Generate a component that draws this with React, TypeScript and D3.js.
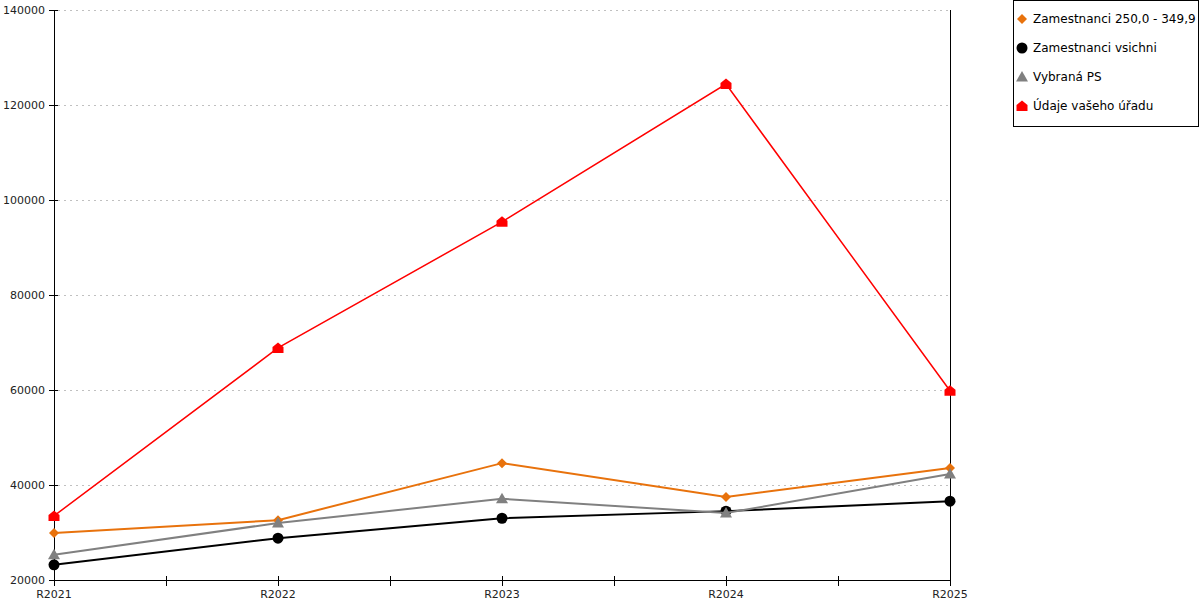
import React from "react";
import * as d3 from "d3";

const categories = ["R2021", "R2022", "R2023", "R2024", "R2025"];
const seriesNames = ["Zamestnanci 250,0 - 349,9", "Zamestnanci vsichni", "Vybraná PS", "Údaje vašeho úřadu"];
const orangeValues = [29900, 32600, 44600, 37500, 43600];
const blackValues = [23200, 28800, 33000, 34500, 36600];
const grayValues = [25300, 32000, 37100, 34100, 42300];
const redValues = [33500, 68850, 95400, 124400, 59850];
const yTicks = [20000, 40000, 60000, 80000, 100000, 120000, 140000];

const W = 1200, H = 600;
const left = 54, right = 950, top = 10, bottom = 580;
const font = "DejaVu Sans, sans-serif";
const c = (v: number) => Math.round(v) + 0.5;

type Shape = "diamond" | "circle" | "triangle" | "house";
const series: { name: string; values: number[]; color: string; width: number; shape: Shape }[] = [
  { name: seriesNames[0], values: orangeValues, color: "#E8720C", width: 2, shape: "diamond" },
  { name: seriesNames[1], values: blackValues, color: "#000000", width: 2, shape: "circle" },
  { name: seriesNames[2], values: grayValues, color: "#808080", width: 2, shape: "triangle" },
  { name: seriesNames[3], values: redValues, color: "#FF0000", width: 1.5, shape: "house" },
];

function Marker({ shape, x, y, color }: { shape: Shape; x: number; y: number; color: string }) {
  if (shape === "diamond") {
    const r = 5;
    return <path d={`M${x},${y - r}L${x + r},${y}L${x},${y + r}L${x - r},${y}Z`} fill={color} />;
  }
  if (shape === "circle") return <circle cx={x} cy={y} r={5.5} fill={color} />;
  if (shape === "triangle") {
    const r = 6;
    return <path d={`M${x},${y - r}L${x + r},${y + r * 0.75}L${x - r},${y + r * 0.75}Z`} fill={color} />;
  }
  return (
    <path
      d={`M${x},${y - 5.5}L${x + 5.5},${y - 1}L${x + 5.5},${y + 5}L${x - 5.5},${y + 5}L${x - 5.5},${y - 1}Z`}
      fill={color}
    />
  );
}

export default function App() {
  const x = d3.scalePoint<string>().domain(categories).range([left, right]);
  const y = d3.scaleLinear().domain([20000, 140000]).range([bottom, top]);
  const step = x.step();
  const xTickPos: number[] = [];
  categories.forEach((cat, i) => {
    xTickPos.push(x(cat)!);
    if (i < categories.length - 1) xTickPos.push(x(cat)! + step / 2);
  });
  const line = d3
    .line<number>()
    .x((_, i) => x(categories[i])!)
    .y((v) => y(v));

  return (
    <svg width={W} height={H} style={{ position: "absolute", left: 0, top: 0 }} fontFamily={font}>
      <rect width={W} height={H} fill="#fff" />
      {yTicks.map((t) => (
        <g key={t}>
          <line x1={58} x2={right} y1={c(y(t))} y2={c(y(t))} stroke="#c0c0c0" strokeDasharray="2,4" />
          <line x1={49} x2={58} y1={c(y(t))} y2={c(y(t))} stroke="#000" />
          <text x={45} y={y(t)} dy="0.35em" textAnchor="end" fontSize={11} fill="#222">
            {t}
          </text>
        </g>
      ))}
      <line x1={c(left)} x2={c(left)} y1={top} y2={bottom} stroke="#000" />
      <line x1={c(right)} x2={c(right)} y1={top} y2={bottom} stroke="#000" />
      <line x1={left} x2={right + 1} y1={c(bottom)} y2={c(bottom)} stroke="#000" />
      {xTickPos.map((p, i) => (
        <line key={i} x1={c(p)} x2={c(p)} y1={576} y2={586} stroke="#000" />
      ))}
      {categories.map((cat) => (
        <text key={cat} x={x(cat)} y={598} textAnchor="middle" fontSize={11} fill="#222">
          {cat}
        </text>
      ))}
      {series.map((s) => (
        <g key={s.name}>
          <path d={line(s.values)!} fill="none" stroke={s.color} strokeWidth={s.width} />
          {s.values.map((v, i) => (
            <Marker key={i} shape={s.shape} x={x(categories[i])!} y={y(v)} color={s.color} />
          ))}
        </g>
      ))}
      <rect x={1013.5} y={0.5} width={185} height={126} fill="#fff" stroke="#000" />
      {series.map((s, i) => (
        <g key={s.name}>
          <Marker shape={s.shape} x={1022} y={19 + i * 29} color={s.color} />
          <text x={1033} y={19 + i * 29} dy="0.35em" fontSize={12} fill="#000">
            {s.name}
          </text>
        </g>
      ))}
    </svg>
  );
}
